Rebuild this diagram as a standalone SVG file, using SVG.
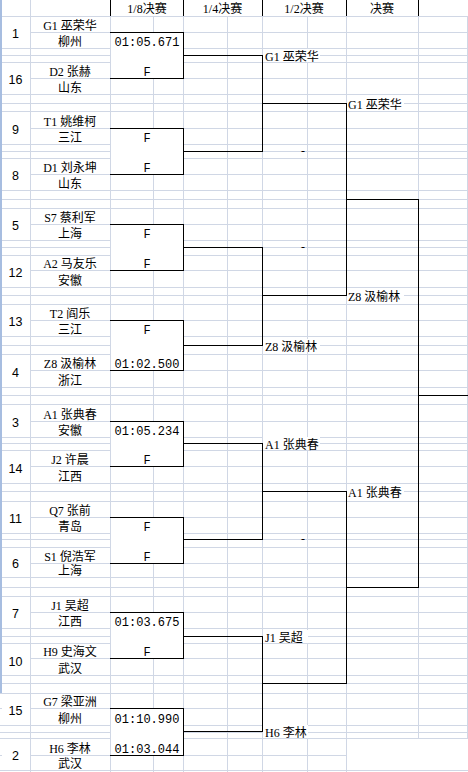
<svg xmlns="http://www.w3.org/2000/svg" width="468" height="772" viewBox="0 0 468 772">
<style>
.grid{stroke:#d0d7e5;stroke-width:1;fill:none;shape-rendering:crispEdges}
.hdr{stroke:#000;stroke-width:1;fill:none;shape-rendering:crispEdges}
.br{stroke:#000;stroke-width:1;fill:none;shape-rendering:crispEdges}
.wo{fill:#fff}
.seed{font-family:"Liberation Sans","Noto Sans CJK SC",sans-serif;font-size:12.5px;fill:#000;text-anchor:middle}
.nm{font-family:"Liberation Serif","Noto Sans CJK SC",serif;font-size:12px;fill:#000;text-anchor:middle}
.res{font-family:"Liberation Mono","Noto Sans CJK SC",monospace;font-size:12px;fill:#000;text-anchor:middle}
.lb{font-family:"Liberation Serif","Noto Sans CJK SC",serif;font-size:12px;fill:#000}
.dash{font-family:"Liberation Serif",serif;font-size:12px;fill:#000;text-anchor:middle}
</style>
<rect width="468" height="772" fill="#fff"/>
<g id="grid">
<path class="grid" d="M0,16.5H468M0,32.5H468M0,48.5H468M0,55.5H468M0,62.5H468M0,78.5H468M0,94.5H468M0,103.5H468M0,111.5H468M0,128.5H468M0,144.5H468M0,151.5H468M0,158.5H468M0,174.5H468M0,190.5H468M0,199.5H468M0,208.5H468M0,224.5H468M0,240.5H468M0,247.5H468M0,255.5H468M0,270.5H468M0,287.5H468M0,295.5H468M0,304.5H468M0,320.5H468M0,336.5H468M0,345.5H468M0,354.5H468M0,370.5H468M0,387.5H468M0,395.5H468M0,404.5H468M0,421.5H468M0,437.5H468M0,443.5H468M0,450.5H468M0,466.5H468M0,483.5H468M0,491.5H468M0,501.5H468M0,517.5H468M0,533.5H468M0,539.5H468M0,547.5H468M0,563.5H468M0,577.5H468M0,587.5H468M0,596.5H468M0,612.5H468M0,628.5H468M0,636.5H468M0,643.5H468M0,658.5H468M0,675.5H468M0,683.5H468M0,693.5H468M0,708.5H468M0,725.5H468M0,732.5H468M0,738.5H468M0,755.5H346M0,770.5H468"/>
<path class="grid" d="M30.5,0V772M110.5,16V772M153.5,16V772M183.5,16V772M227.5,16V772M262.5,16V772M307.5,16V772M346.5,16V772M418.5,16V739M467.5,16V739"/>
<g id="merged">
<rect class="wo" x="2" y="17" width="28" height="31"/>
<rect class="wo" x="2" y="63" width="28" height="31"/>
<rect class="wo" x="2" y="112" width="28" height="32"/>
<rect class="wo" x="2" y="159" width="28" height="31"/>
<rect class="wo" x="2" y="209" width="28" height="31"/>
<rect class="wo" x="2" y="256" width="28" height="31"/>
<rect class="wo" x="2" y="305" width="28" height="31"/>
<rect class="wo" x="2" y="355" width="28" height="32"/>
<rect class="wo" x="2" y="405" width="28" height="32"/>
<rect class="wo" x="2" y="451" width="28" height="32"/>
<rect class="wo" x="2" y="502" width="28" height="31"/>
<rect class="wo" x="2" y="548" width="28" height="29"/>
<rect class="wo" x="2" y="597" width="28" height="31"/>
<rect class="wo" x="2" y="644" width="28" height="31"/>
<rect class="wo" x="2" y="694" width="28" height="31"/>
<rect class="wo" x="2" y="739" width="28" height="31"/>
<rect class="wo" x="111" y="33" width="72" height="45"/>
<rect class="wo" x="111" y="129" width="72" height="45"/>
<rect class="wo" x="111" y="225" width="72" height="45"/>
<rect class="wo" x="111" y="321" width="72" height="49"/>
<rect class="wo" x="111" y="422" width="72" height="44"/>
<rect class="wo" x="111" y="518" width="72" height="45"/>
<rect class="wo" x="111" y="613" width="72" height="45"/>
<rect class="wo" x="111" y="709" width="72" height="46"/>
<rect class="wo" x="347" y="739" width="121" height="31"/>
<rect class="wo" x="263" y="49" width="57" height="13"/>
<rect class="wo" x="263" y="339" width="57" height="13"/>
<rect class="wo" x="263" y="437" width="57" height="13"/>
<rect class="wo" x="263" y="630" width="45" height="13"/>
<rect class="wo" x="263" y="725" width="45" height="13"/>
<rect class="wo" x="347" y="97" width="57" height="13"/>
<rect class="wo" x="347" y="289" width="57" height="13"/>
<rect class="wo" x="347" y="485" width="57" height="13"/>
</g>
<rect x="0" y="0" width="2" height="693" fill="#a7bde0"/>
<path class="hdr" d="M110.5,0V16M183.5,0V16M262.5,0V16M346.5,0V16M418.5,0V16"/>
</g>
<g id="header" class="nm">
<text x="147" y="12.5">1/8决赛</text>
<text x="222.5" y="12.5">1/4决赛</text>
<text x="304" y="12.5">1/2决赛</text>
<text x="382" y="12.5">决赛</text>
</g>
<g id="connectors">
<path class="br" d="M110,32.5H183.5V78.5H110M110,128.5H183.5V174.5H110M110,224.5H183.5V270.5H110M110,320.5H183.5V370.5H110M110,421.5H183.5V466.5H110M110,517.5H183.5V563.5H110M110,612.5H183.5V658.5H110M110,708.5H183.5V755.5H110"/>
<path class="br" d="M183.5,55.5H262.5V151.5H183.5M262.5,103.5H346.5M183.5,247.5H262.5V345.5H183.5M262.5,295.5H346.5M183.5,443.5H262.5V539.5H183.5M262.5,491.5H346.5M183.5,636.5H262.5V731.5H183.5M262.5,683.5H346.5"/>
<path class="br" d="M346.5,103.5V295.5M346.5,199.5H418.5M346.5,491.5V683.5M346.5,587.5H418.5M418.5,199.5V587.5M418.5,395.5H468"/>
</g>
<g id="p1"><text class="seed" x="15.5" y="38">1</text><text class="nm" x="70" y="30">G1 巫荣华</text><text class="nm" x="70" y="46">柳州</text></g>
<g id="p16"><text class="seed" x="15.5" y="84">16</text><text class="nm" x="70" y="76">D2 张赫</text><text class="nm" x="70" y="92">山东</text></g>
<g id="p9"><text class="seed" x="15.5" y="133.5">9</text><text class="nm" x="70" y="126">T1 姚维柯</text><text class="nm" x="70" y="142">三江</text></g>
<g id="p8"><text class="seed" x="15.5" y="180">8</text><text class="nm" x="70" y="172">D1 刘永坤</text><text class="nm" x="70" y="188">山东</text></g>
<g id="p5"><text class="seed" x="15.5" y="230">5</text><text class="nm" x="70" y="222">S7 蔡利军</text><text class="nm" x="70" y="238">上海</text></g>
<g id="p12"><text class="seed" x="15.5" y="277">12</text><text class="nm" x="70" y="268">A2 马友乐</text><text class="nm" x="70" y="285">安徽</text></g>
<g id="p13"><text class="seed" x="15.5" y="326">13</text><text class="nm" x="70" y="318">T2 阎乐</text><text class="nm" x="70" y="334">三江</text></g>
<g id="p4"><text class="seed" x="15.5" y="376.5">4</text><text class="nm" x="70" y="368">Z8 汲榆林</text><text class="nm" x="70" y="385">浙江</text></g>
<g id="p3"><text class="seed" x="15.5" y="426.5">3</text><text class="nm" x="70" y="419">A1 张典春</text><text class="nm" x="70" y="435">安徽</text></g>
<g id="p14"><text class="seed" x="15.5" y="472.5">14</text><text class="nm" x="70" y="464">J2 许晨</text><text class="nm" x="70" y="481">江西</text></g>
<g id="p11"><text class="seed" x="15.5" y="523">11</text><text class="nm" x="70" y="515">Q7 张前</text><text class="nm" x="70" y="531">青岛</text></g>
<g id="p6"><text class="seed" x="15.5" y="568">6</text><text class="nm" x="70" y="561">S1 倪浩军</text><text class="nm" x="70" y="575">上海</text></g>
<g id="p7"><text class="seed" x="15.5" y="618">7</text><text class="nm" x="70" y="610">J1 吴超</text><text class="nm" x="70" y="626">江西</text></g>
<g id="p10"><text class="seed" x="15.5" y="665.5">10</text><text class="nm" x="70" y="656">H9 史海文</text><text class="nm" x="70" y="673">武汉</text></g>
<g id="p15"><text class="seed" x="15.5" y="715">15</text><text class="nm" x="70" y="706">G7 梁亚洲</text><text class="nm" x="70" y="723">柳州</text></g>
<g id="p2"><text class="seed" x="15.5" y="760">2</text><text class="nm" x="70" y="753">H6 李林</text><text class="nm" x="70" y="768">武汉</text></g>
<g id="m1" class="res"><text x="147" y="46">01:05.671</text><text x="147" y="76">F</text></g>
<g id="m2" class="res"><text x="147" y="142">F</text><text x="147" y="172">F</text></g>
<g id="m3" class="res"><text x="147" y="238">F</text><text x="147" y="268">F</text></g>
<g id="m4" class="res"><text x="147" y="334">F</text><text x="147" y="368">01:02.500</text></g>
<g id="m5" class="res"><text x="147" y="435">01:05.234</text><text x="147" y="464">F</text></g>
<g id="m6" class="res"><text x="147" y="531">F</text><text x="147" y="561">F</text></g>
<g id="m7" class="res"><text x="147" y="626">01:03.675</text><text x="147" y="656">F</text></g>
<g id="m8" class="res"><text x="147" y="723">01:10.990</text><text x="147" y="753">01:03.044</text></g>
<g id="qf">
<text class="lb" x="265" y="61">G1 巫荣华</text>
<text class="dash" x="303" y="154.5">-</text>
<text class="dash" x="303" y="250.5">-</text>
<text class="lb" x="265" y="351">Z8 汲榆林</text>
<text class="lb" x="265" y="449">A1 张典春</text>
<text class="dash" x="303" y="542.5">-</text>
<text class="lb" x="265" y="642">J1 吴超</text>
<text class="lb" x="265" y="737">H6 李林</text>
</g>
<g id="sf">
<text class="lb" x="348" y="109">G1 巫荣华</text>
<text class="lb" x="348" y="301">Z8 汲榆林</text>
<text class="lb" x="348" y="497">A1 张典春</text>
</g>
</svg>
